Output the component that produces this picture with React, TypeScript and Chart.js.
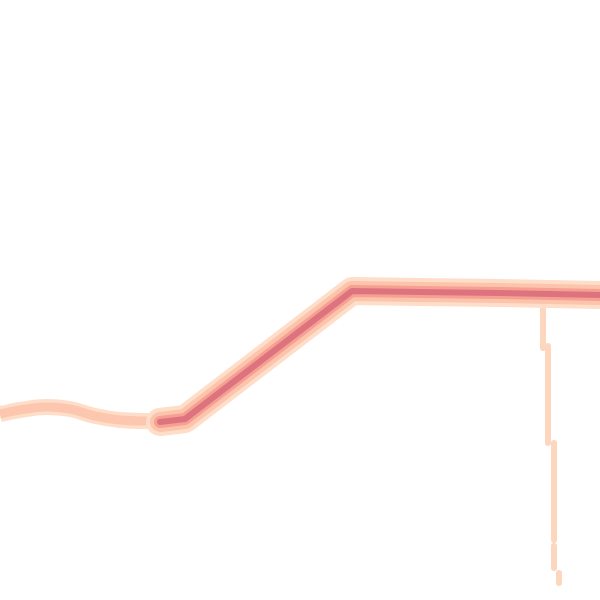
import React, { useEffect, useRef } from "react";
import { Chart, registerables } from "chart.js";

Chart.register(...registerables);

// Main trace (diagonal rise then plateau), pixel-space data units (0..600)
const mainX = [160, 185, 352, 420, 500, 600];
const mainY = [422, 419, 291, 292, 293, 295];

// Left wave trace
const waveX = [0, 20, 45, 70, 95, 120, 150, 175];
const waveY = [414, 410, 407, 409, 416, 420, 421, 421];

// Vertical drop trace (stepped, with gaps)
const dropX = [543, 543, null, 548, 548, null, 554, 554, null, 554, 554, null, 559, 559];
const dropY = [298, 348, null, 346, 443, null, 443, 540, null, 546, 568, null, 573, 583];

const toPts = (xs: (number | null)[], ys: (number | null)[]) =>
  xs.map((x, i) => ({ x: x as number, y: ys[i] as number }));

export default function App() {
  const ref = useRef<HTMLCanvasElement | null>(null);
  useEffect(() => {
    document.body.style.margin = "0";
    const ctx = ref.current!;
    const line = (data: any, color: string, width: number, order: number, tension = 0, cap = "butt") => ({
      data,
      borderColor: color,
      borderWidth: width,
      pointRadius: 0,
      showLine: true,
      tension,
      order,
      spanGaps: false,
      borderJoinStyle: "round" as const,
      borderCapStyle: cap as any,
      fill: false,
    });
    const main = toPts(mainX, mainY);
    const wave = toPts(waveX, waveY);
    const drop = toPts(dropX, dropY);
    const chart = new Chart(ctx, {
      type: "scatter",
      data: {
        datasets: [
          line(drop, "rgb(253,214,190)", 6, 9),
          line(wave, "rgb(254,222,200)", 16, 8, 0.4),
          line(wave, "rgb(252,198,175)", 9, 7, 0.4),
          line(main, "rgb(254,222,200)", 28, 6, 0, "round"),
          line(main, "rgb(252,196,172)", 20, 5, 0, "round"),
          line(main, "rgb(245,160,145)", 12, 4, 0, "round"),
          line(main, "rgb(222,115,128)", 6, 3, 0, "round"),
        ],
      },
      options: {
        animation: false,
        responsive: false,
        layout: { padding: 0 },
        plugins: { legend: { display: false }, tooltip: { enabled: false } },
        scales: {
          x: { type: "linear", min: 0, max: 600, display: false },
          y: { type: "linear", min: 0, max: 600, reverse: true, display: false },
        },
      },
    });
    return () => chart.destroy();
  }, []);
  return (
    <div style={{ position: "absolute", left: 0, top: 0, width: 600, height: 600, background: "#fff" }}>
      <canvas ref={ref} width={600} height={600} />
    </div>
  );
}
